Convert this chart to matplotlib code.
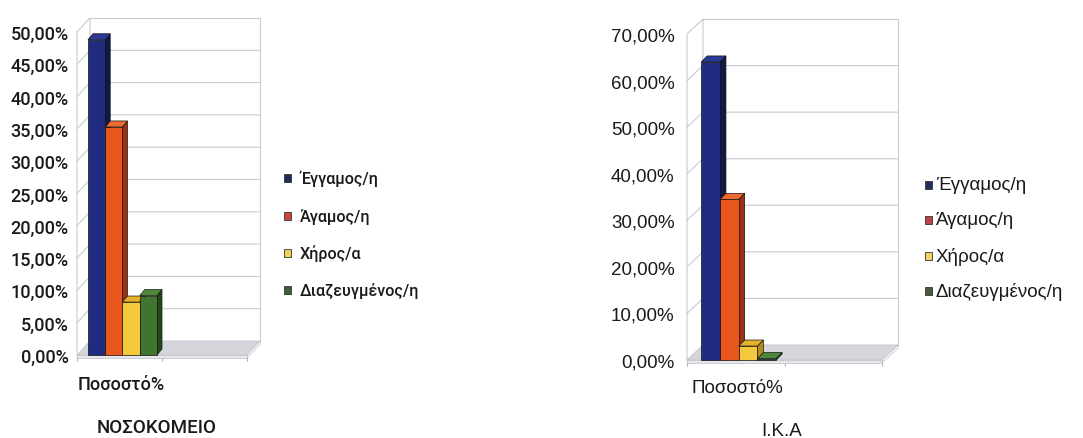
import matplotlib
matplotlib.use('Agg')
import matplotlib.pyplot as plt
from matplotlib.patches import Polygon, Rectangle

# ---------------- data ----------------
categories = ['Ποσοστό%']
series = ['Έγγαμος/η', 'Άγαμος/η', 'Χήρος/α', 'Διαζευγμένος/η']
hospital_values = [48.8, 35.3, 8.2, 9.2]
ika_values = [64.0, 34.5, 3.0, 0.3]
hospital_ticks = [0, 5, 10, 15, 20, 25, 30, 35, 40, 45, 50]
ika_ticks = [0, 10, 20, 30, 40, 50, 60, 70]
hospital_title = 'ΝΟΣΟΚΟΜΕΙΟ'
ika_title = 'Ι.Κ.Α'

# ---------------- style ----------------
W, H = 1083, 439
fig = plt.figure(figsize=(W / 100, H / 100), dpi=100)
fig.patch.set_facecolor('white')

front_cols = ['#1f2c80', '#e6561d', '#f4c93c', '#3f7530']
top_cols = ['#2b3a95', '#ee6a2e', '#e6b42c', '#4c8a3a']
side_cols = ['#0f1848', '#9a3410', '#b38a1e', '#23461a']
leg_cols_left = ['#1f2d5c', '#c8473a', '#f0d050', '#3f5e34']
leg_cols_right = ['#1f2d5c', '#b8444a', '#f0d468', '#4a5a40']
grid_col = '#c9cbd2'
floor_col = '#d4d6dc'
text_col = '#1a1a1a'

fig_ax = fig.add_axes([0, 0, 1, 1])
fig_ax.set_xlim(0, W)
fig_ax.set_ylim(H, 0)
fig_ax.axis('off')
fig_ax.set_zorder(-5)


def fmt(t):
    return ('%.2f%%' % t).replace('.', ',')


def draw_chart(values, ticks, x0, x1, y0, ytop, wall_dx, wall_dy,
               bdx, bdy, bar_w, shift, fontsize, family, weight, label_pad,
               cat_y, cat_size, title, title_xy, title_size, legend_x,
               legend_ys, legend_size, leg_cols, text_gap):
    ymax = ticks[-1]
    ax = fig.add_axes([x0 / W, 1 - y0 / H, (x1 - x0) / W, (y0 - ytop) / H])
    ax.set_xlim(-0.5, 1.5)
    ax.set_ylim(0, ymax)
    ax.patch.set_alpha(0)
    for s in ax.spines.values():
        s.set_visible(False)
    pxx = (x1 - x0) / 2.0
    pxy = (y0 - ytop) / ymax
    ddx = wall_dx / pxx
    ddy = wall_dy / pxy
    bx = bdx / pxx
    by = bdy / pxy
    xl, xr = -0.5, 1.5
    fkw = dict(family=family, fontweight=weight, color=text_col)

    # y ticks
    ax.set_yticks(ticks)
    ax.set_yticklabels([fmt(t) for t in ticks], fontsize=fontsize, **fkw)
    ax.tick_params(axis='y', length=0, pad=label_pad)
    # x ticks
    ax.set_xticks([0])
    ax.set_xticklabels([])
    ax.set_xticks([-0.5, 0.5, 1.5], minor=True)
    ax.tick_params(axis='x', which='major', length=0)
    ax.tick_params(axis='x', which='minor', length=4, color='#b0b2b8',
                   width=0.8)

    # walls
    lw = 0.8
    ax.plot([xl + ddx, xr + ddx, xr + ddx], [ymax + ddy, ymax + ddy, ddy],
            color=grid_col, lw=lw, clip_on=False, zorder=1)
    ax.plot([xl, xl, xl + ddx, xl + ddx], [0, ymax, ymax + ddy, ddy],
            color=grid_col, lw=lw, clip_on=False, zorder=1)
    for t in ticks[1:-1]:
        ax.plot([xl, xl + ddx, xr + ddx], [t, t + ddy, t + ddy],
                color=grid_col, lw=lw, clip_on=False, zorder=1)
    # floor
    ax.add_patch(Polygon([(xl, 0), (xr, 0), (xr + ddx, ddy), (xl + ddx, ddy)],
                         closed=True, facecolor=floor_col,
                         edgecolor='#bfc1c7', lw=0.6, clip_on=False, zorder=2))
    slab = 3 / pxy
    ax.add_patch(Polygon([(xl, 0), (xr, 0), (xr, -slab), (xl, -slab)],
                         closed=True, facecolor='#e6e7eb', edgecolor='#c4c6cc',
                         lw=0.6, clip_on=False, zorder=2))
    ax.plot([xr, xr + ddx, xr + ddx], [-slab, ddy - slab, ddy],
            color='#c4c6cc', lw=0.6, clip_on=False, zorder=2)

    # bars
    n = len(values)
    start = -n * bar_w / 2 + shift
    for i, v in enumerate(values):
        l = start + i * bar_w
        r = l + bar_w
        ax.add_patch(Polygon([(r, 0), (r + bx, by), (r + bx, v + by), (r, v)],
                             closed=True, facecolor=side_cols[i],
                             edgecolor='#111111', lw=0.5, clip_on=False,
                             zorder=3 + i))
        ax.add_patch(Polygon([(l, v), (l + bx, v + by), (r + bx, v + by), (r, v)],
                             closed=True, facecolor=top_cols[i],
                             edgecolor='#111111', lw=0.5, clip_on=False,
                             zorder=3 + i))
        ax.bar([l], [v], width=bar_w, align='edge', color=front_cols[i],
               edgecolor='#111111', linewidth=0.5, clip_on=False,
               zorder=3 + i)

    # category label
    t = ax.text(0.015, -(cat_y - y0) / pxy, categories[0],
                transform=ax.transData, fontsize=cat_size,
                ha='center', va='baseline', **fkw)
    t.set_clip_on(False)

    # title
    fig_ax.text(title_xy[0], title_xy[1], title, fontsize=title_size,
                ha='center', va='baseline', **fkw)

    # legend
    for i, name in enumerate(series):
        yc = legend_ys[i]
        fig_ax.add_patch(Rectangle((legend_x, yc - 4), 7, 8,
                                   facecolor=leg_cols[i], edgecolor='#333333',
                                   lw=0.6))
        fig_ax.text(legend_x + text_gap, yc, name, fontsize=legend_size,
                    ha='left', va='center', **fkw)


draw_chart(hospital_values, hospital_ticks, x0=77, x1=247, y0=356, ytop=33,
           wall_dx=13, wall_dy=14, bdx=5, bdy=6, bar_w=0.203, shift=0.035,
           fontsize=13, family='Roboto', weight='medium', label_pad=6,
           cat_y=390, cat_size=13, title=hospital_title, title_xy=(157, 433),
           title_size=13.5, legend_x=284, legend_ys=[179, 217, 254, 291],
           legend_size=11.6, leg_cols=leg_cols_left, text_gap=16)

draw_chart(ika_values, ika_ticks, x0=687, x1=882, y0=361, ytop=35,
           wall_dx=16, wall_dy=15, bdx=6, bdy=6, bar_w=0.192, shift=0.03,
           fontsize=13.5, family='Liberation Sans', weight='normal',
           label_pad=9, cat_y=393, cat_size=13.5, title=ika_title,
           title_xy=(782, 436), title_size=13.5, legend_x=925,
           legend_ys=[186, 221, 257, 292], legend_size=13.5,
           leg_cols=leg_cols_right, text_gap=11)

fig.savefig('out.png', dpi=100, facecolor='white')
